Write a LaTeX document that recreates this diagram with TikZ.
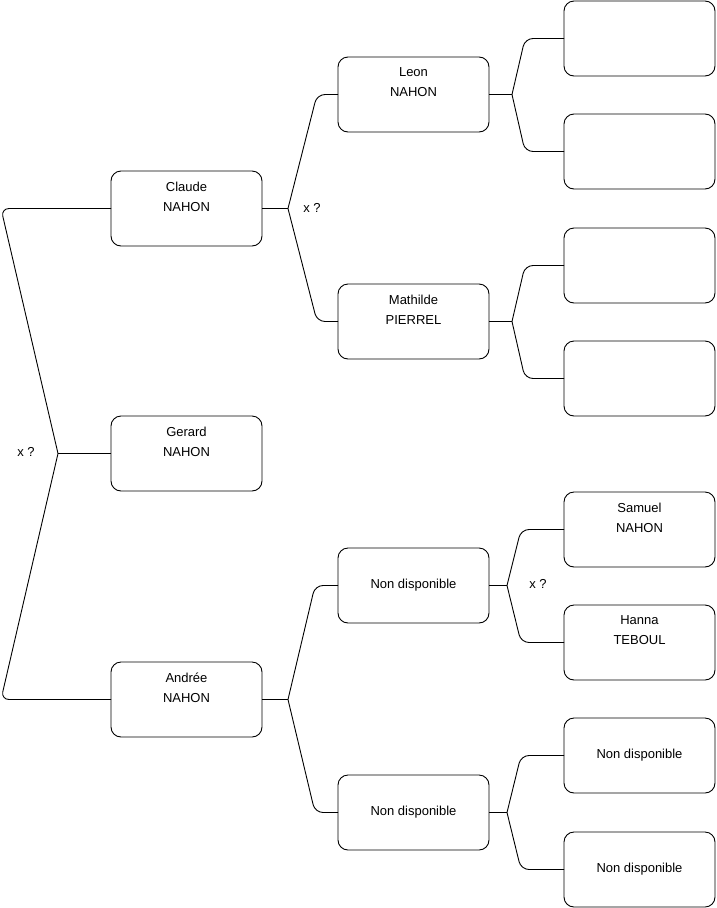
\documentclass[tikz,border=0pt]{standalone}
\usepackage{fontspec}
\setmainfont{Liberation Sans}
\begin{document}
\begin{tikzpicture}[x=1pt, y=-1pt, line width=0.9pt, font=\fontsize{13}{20}\selectfont,
      b/.style={draw, rounded corners=10pt, align=center, minimum width=151pt, minimum height=75pt, inner sep=0pt, outer sep=0pt},
      link/.style={rounded corners=8pt}]
  \useasboundingbox (0,0) rectangle (716,908);
  % parents
  \node[b] (claude) at (186.5,208.5) {Claude\\NAHON\\[4pt]\mbox{}};
  \node[b] (gerard) at (186.5,453.5) {Gerard\\NAHON\\[4pt]\mbox{}};
  \node[b] (andree) at (186.5,699.5) {Andrée\\NAHON\\[4pt]\mbox{}};
  % grandparents
  \node[b] (leon) at (413.5,94.5) {Leon\\NAHON\\[4pt]\mbox{}};
  \node[b] (mathilde) at (413.5,321.5) {Mathilde\\PIERREL\\[4pt]\mbox{}};
  \node[b] (nd1) at (413.5,585.5) {Non disponible};
  \node[b] (nd2) at (413.5,812.5) {Non disponible};
  % great-grandparents
  \node[b] (e1) at (639.5,38.5) {};
  \node[b] (e2) at (639.5,151.5) {};
  \node[b] (e3) at (639.5,265.5) {};
  \node[b] (e4) at (639.5,378.5) {};
  \node[b] (samuel) at (639.5,529.5) {Samuel\\NAHON\\[4pt]\mbox{}};
  \node[b] (hanna) at (639.5,642.5) {Hanna\\TEBOUL\\[4pt]\mbox{}};
  \node[b] (nd3) at (639.5,755.5) {Non disponible};
  \node[b] (nd4) at (639.5,869.5) {Non disponible};
  % junctions
  \coordinate (j0) at (58,453.5);
  \coordinate (j1) at (288,208.5);
  \coordinate (j2) at (288,699.5);
  \coordinate (j3) at (512,94.5);
  \coordinate (j4) at (512,321.5);
  \coordinate (j5) at (507,585.5);
  \coordinate (j6) at (507,812.5);
  \draw (gerard.west) -- (j0);
  \draw[link] (j0) -- ([xshift=-110pt]claude.west) -- (claude.west);
  \draw[link] (j0) -- ([xshift=-110pt]andree.west) -- (andree.west);
  \draw (claude.east) -- (j1);
  \draw[link] (j1) -- ([xshift=-21pt]leon.west) -- (leon.west);
  \draw[link] (j1) -- ([xshift=-21pt]mathilde.west) -- (mathilde.west);
  \draw (andree.east) -- (j2);
  \draw[link] (j2) -- ([xshift=-23pt]nd1.west) -- (nd1.west);
  \draw[link] (j2) -- ([xshift=-23pt]nd2.west) -- (nd2.west);
  \draw (leon.east) -- (j3);
  \draw[link] (j3) -- ([xshift=-39pt]e1.west) -- (e1.west);
  \draw[link] (j3) -- ([xshift=-39pt]e2.west) -- (e2.west);
  \draw (mathilde.east) -- (j4);
  \draw[link] (j4) -- ([xshift=-39pt]e3.west) -- (e3.west);
  \draw[link] (j4) -- ([xshift=-39pt]e4.west) -- (e4.west);
  \draw (nd1.east) -- (j5);
  \draw[link] (j5) -- ([xshift=-43pt]samuel.west) -- (samuel.west);
  \draw[link] (j5) -- ([xshift=-43pt]hanna.west) -- (hanna.west);
  \draw (nd2.east) -- (j6);
  \draw[link] (j6) -- ([xshift=-43pt]nd3.west) -- (nd3.west);
  \draw[link] (j6) -- ([xshift=-43pt]nd4.west) -- (nd4.west);
  % unknown marks
  \node (q0) at (26,451.5) {x ?};
  \node (q1) at (312,207.5) {x ?};
  \node (q2) at (538,583.5) {x ?};
\end{tikzpicture}
\end{document}
